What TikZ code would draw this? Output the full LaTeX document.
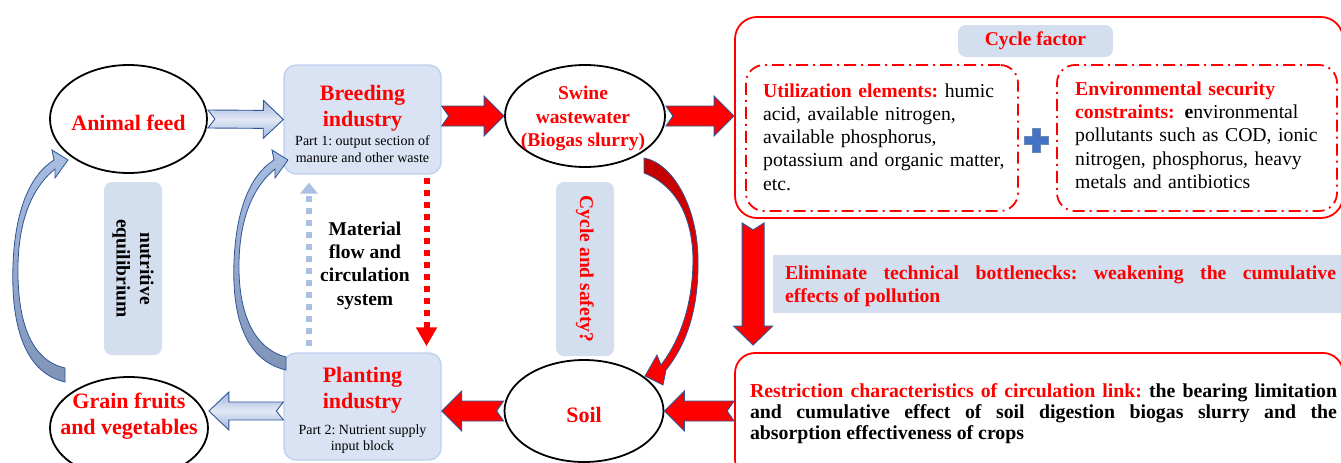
\documentclass[tikz,border=0pt]{standalone}
\usepackage{fontspec}
\setmainfont{Liberation Serif}
\usepackage{tikz}
\usetikzlibrary{shapes.geometric, calc, positioning, arrows.meta}
\definecolor{boxblue}{HTML}{DAE3F3}
\definecolor{boxedge}{HTML}{BDD0EC}
\definecolor{lblblue}{HTML}{D3DEEF}
\definecolor{edgeblue}{HTML}{2F5597}
\definecolor{arrblue}{HTML}{9DB4DC}
\definecolor{arrlight}{HTML}{E2E9F5}
\definecolor{crvtop}{HTML}{A9BEE0}
\definecolor{crvbot}{HTML}{7F95B8}
\definecolor{dotblue}{HTML}{A9C0E2}
\definecolor{darkred}{HTML}{C00000}
\definecolor{plusblue}{HTML}{4472C4}
% block arrow with notched tail: style, from, to, shaft half, head half, head length
\newcommand{\blockarr}[6]{%
  \draw[#1] ($(#2)!#4pt!90:(#3)$) -- ($(#3)!#6pt!(#2)!#4pt!-90:(#2)$)
    -- ($(#3)!#6pt!(#2)!#5pt!-90:(#2)$) -- (#3)
    -- ($(#3)!#6pt!(#2)!#5pt!90:(#2)$) -- ($(#3)!#6pt!(#2)!#4pt!90:(#2)$)
    -- ($(#2)!#4pt!-90:(#3)$) -- ($(#2)!7pt!(#3)$) -- cycle;}
\tikzset{
  ell/.style={ellipse, draw=black, line width=1.8pt, fill=white, inner sep=0pt},
  indbox/.style={rectangle, rounded corners=12pt, fill=boxblue, draw=boxedge, line width=1.3pt},
  lblbox/.style={rectangle, rounded corners=8pt, fill=lblblue},
  redbox/.style={rectangle, rounded corners=22pt, draw=red, line width=1.8pt},
  dashbox/.style={rectangle, rounded corners=18pt, draw=red, line width=1.8pt,
    dash pattern=on 12pt off 5pt on 2pt off 5pt},
  bigred/.style={text=red, font=\fontsize{22}{26}\selectfont\bfseries, align=center},
  midred/.style={text=red, font=\fontsize{19.5}{23.5}\selectfont\bfseries, align=center},
  smalltxt/.style={font=\fontsize{14}{16.5}\selectfont, align=center},
  bodytxt/.style={font=\fontsize{19.7}{23.3}\selectfont, align=left, inner sep=0pt},
  redarr/.style={fill=red, draw=edgeblue, line width=0.9pt},
  bluearr/.style={top color=arrblue, bottom color=arrblue, middle color=arrlight,
    draw=edgeblue, line width=0.9pt},
  bluedots/.style={dotblue, line width=6pt, dash pattern=on 6pt off 6pt,
    -{Triangle[width=17pt,length=11pt]}},
  reddots/.style={red, line width=6pt, dash pattern=on 6pt off 6pt,
    -{Triangle[width=20pt,length=19pt]}}
}
\begin{document}
\frenchspacing
\begin{tikzpicture}[x=1pt, y=-1pt]
  \useasboundingbox (0,0) rectangle (1341,463);
  % Left cycle
  \node[ell, minimum width=157pt, minimum height=108pt] (feed) at (128.5,119) {};
  \node[bigred, anchor=base] (feedtxt) at (128.5,130) {Animal feed};
  \node[ell, minimum width=158pt, minimum height=102pt] (grain) at (129,428) {};
  \node[bigred] (graintxt) at (129,416.5) {Grain fruits\\and vegetables};
  \node[indbox, minimum width=157pt, minimum height=109pt] (breed) at (362.5,119.5) {};
  \node[bigred] (breedtxt) at (362.5,108) {Breeding\\industry};
  \node[smalltxt] (breedsub) at (362.5,149) {Part 1: output section of\\manure and other waste};
  \node[indbox, minimum width=157pt, minimum height=107pt] (plant) at (362.5,406.5) {};
  \node[bigred] (planttxt) at (362.5,390) {Planting\\industry};
  \node[smalltxt] (plantsub) at (362.5,439) {Part 2: Nutrient supply\\input block};
  \node[lblbox, rotate=-90, minimum width=173pt, minimum height=58pt,
    font=\fontsize{19.5}{23.5}\selectfont\bfseries, align=center] (nutri) at (133,268.5) {nutritive\\equilibrium};
  \node[font=\fontsize{19.5}{23.3}\selectfont\bfseries, align=center] (flowtxt) at (365,265.5)
    {Material\\flow and\\circulation\\system};
  % Middle column
  \node[ell, minimum width=160pt, minimum height=102pt] (swine) at (585,116) {};
  \node[midred] (swinetxt) at (583,118.5) {Swine\\wastewater\\(Biogas slurry)};
  \node[ell, minimum width=159pt, minimum height=102pt] (soil) at (584,411) {};
  \node[bigred, anchor=base] (soiltxt) at (584,422) {Soil};
  \node[lblbox, rotate=-90, minimum width=174pt, minimum height=58pt, midred] (safety) at (585,269) {Cycle and safety?};
  % Right blocks
  \node[redbox, minimum width=608pt, minimum height=201pt] (cycle) at (1039,117.5) {};
  \node[lblbox, minimum width=155pt, minimum height=32pt, midred] (cyclelbl) at (1035.5,41) {Cycle factor};
  \node[dashbox, minimum width=272pt, minimum height=146pt] (util) at (882,138) {};
  \node[bodytxt, anchor=west, text width=245pt] (utiltxt) at (763,137)
    {{\color{red}\bfseries Utilization elements:} humic\\acid, available nitrogen,\\available phosphorus,\\potassium and organic matter,\\etc.};
  \node[dashbox, minimum width=280pt, minimum height=146pt] (env) at (1197,138) {};
  \node[bodytxt, anchor=west, text width=255pt] (envtxt) at (1075,135)
    {{\color{red}\bfseries Environmental security\\constraints:}\hspace{0.5em}{\bfseries e}nvironmental\\pollutants such as COD, ionic\\nitrogen, phosphorus, heavy\\metals and antibiotics};
  \filldraw[fill=plusblue, draw=edgeblue!70, line width=0.6pt] (1032,128) -- (1040,128) -- (1040,136)
    -- (1048,136) -- (1048,144) -- (1040,144) -- (1040,152) -- (1032,152) -- (1032,144)
    -- (1024,144) -- (1024,136) -- (1032,136) -- cycle;
  \node[rectangle, fill=lblblue, minimum width=577pt, minimum height=58pt] (elim) at (1061.5,284) {};
  \node[font=\fontsize{19.7}{23.4}\selectfont\bfseries, text=red, text width=551pt, align=justify,
    inner sep=0pt] (elimtxt) at (1060.5,286.4)
    {Eliminate technical bottlenecks: weakening the cumulative\linebreak effects of pollution};
  \node[redbox, rounded corners=20pt, minimum width=608pt, minimum height=127pt] (restr) at (1039,416.5) {};
  \node[font=\fontsize{19.8}{21.3}\selectfont\bfseries, text width=587pt, align=justify,
    inner sep=0pt] (restrtxt) at (1043.5,413.5)
    {{\color{red}Restriction characteristics of circulation link:} the bearing limitation\linebreak and cumulative effect of soil digestion biogas slurry and the\linebreak absorption effectiveness of crops};
  % Block arrows
  \coordinate (bs) at (breed.east |- swine.center);
  \coordinate (sc) at (cycle.west |- swine.center);
  \coordinate (rs) at (restr.west |- soil.center);
  \coordinate (sp) at (plant.east |- soil.center);
  \coordinate (pg) at (plant.west |- soil.center);
  \coordinate (gp) at (grain.east |- soil.center);
  \coordinate (dtop) at ([xshift=19pt,yshift=-4pt]cycle.south west);
  \coordinate (dbot) at ([xshift=19pt,yshift=7pt]restr.north west);
  \blockarr{bluearr}{feed.east}{breed.west}{9}{19}{20}
  \blockarr{redarr}{bs}{swine.west}{10}{20}{20}
  \blockarr{redarr}{swine.east}{sc}{10}{20}{20}
  \blockarr{redarr}{rs}{soil.east}{10}{20}{20}
  \blockarr{redarr}{soil.west}{sp}{10}{20}{20}
  \blockarr{bluearr}{pg}{gp}{9}{19}{20}
  \blockarr{redarr}{dtop}{dbot}{11}{19.5}{19}
  % Dotted arrows
  \draw[bluedots] ([xshift=-53.5pt,yshift=6pt]plant.north) -- ([xshift=-53.5pt,yshift=-8pt]breed.south);
  \draw[reddots] ([xshift=64pt,yshift=-3pt]breed.south) -- ([xshift=64pt,yshift=6pt]plant.north);
  % Curved arrows
  \draw[top color=crvtop, bottom color=crvbot, draw=edgeblue, line width=0.8pt]
    (65,382) .. controls (22,372) and (11,320) .. (13,265) .. controls (15,210) and (30,175) .. (54,160)
    -- (52,150) -- (68,160) -- (55,178) -- (55,169)
    .. controls (35,185) and (19,215) .. (18,265) .. controls (17,320) and (30,360) .. (65,368) -- cycle;
  \draw[top color=crvtop, bottom color=crvbot, draw=edgeblue, line width=0.8pt]
    (286,370) .. controls (243,360) and (232,312) .. (234,262) .. controls (236,210) and (250,175) .. (274,160)
    -- (272,150) -- (288,160) -- (275,178) -- (275,169)
    .. controls (255,185) and (240,215) .. (239,262) .. controls (238,310) and (252,348) .. (286,357) -- cycle;
  \draw[top color=darkred, bottom color=red, draw=edgeblue, line width=0.8pt]
    (644,158) .. controls (672,163) and (697,205) .. (698,258) .. controls (699,310) and (686,345) .. (666,370)
    -- (663,385) -- (645,376) -- (657,355) -- (661,365)
    .. controls (680,340) and (693,305) .. (693,258) .. controls (692,215) and (675,185) .. (644,173) -- cycle;
\end{tikzpicture}
\end{document}
